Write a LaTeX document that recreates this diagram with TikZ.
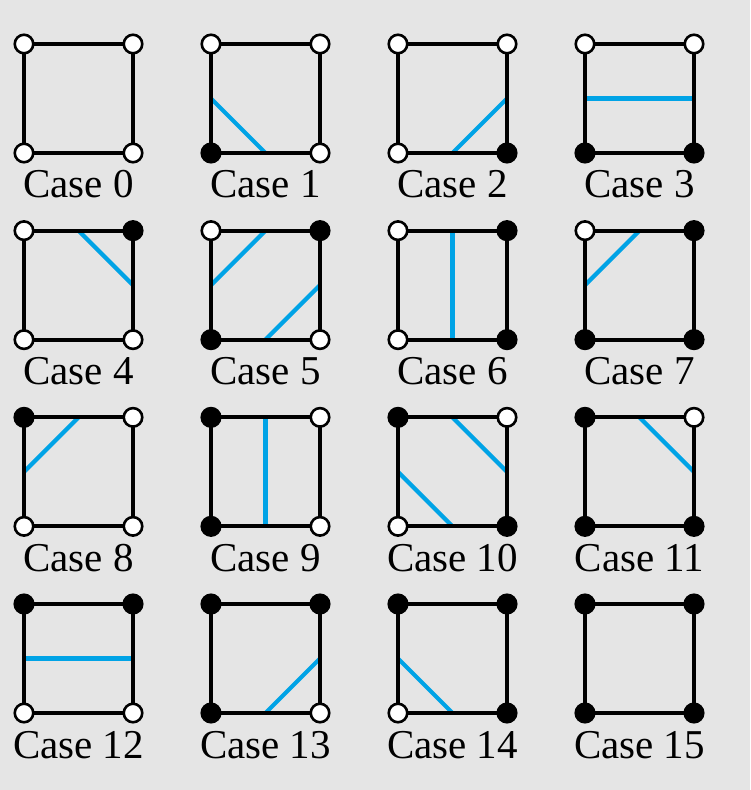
\documentclass[tikz,border=0pt]{standalone}
\usepackage{fontspec}
\setmainfont{Liberation Serif}
\definecolor{bgc}{HTML}{E5E5E5}
\definecolor{iso}{HTML}{00A3E6}
\tikzset{
  cell/.style={draw=black, line width=4pt},
  contour/.style={draw=iso, line width=4.2pt},
  corner/.style={circle, draw=black, line width=2.6pt, minimum size=18.5pt, inner sep=0pt},
  caselabel/.style={anchor=base, font=\fontsize{41}{41}\selectfont, inner sep=0pt}
}
\begin{document}
\begin{tikzpicture}[x=1pt,y=1pt]
\fill[bgc] (0,0) rectangle (750,790);
\useasboundingbox (0,0) rectangle (750,790);
\foreach \n in {0,...,15} {
  \pgfmathtruncatemacro\col{mod(\n,4)}
  \pgfmathtruncatemacro\row{div(\n,4)}
  \pgfmathsetmacro\x{24+187*\col}
  \pgfmathsetmacro\y{790-44-186.67*\row}
  \coordinate (p\n-tl) at (\x,\y);
  \coordinate (p\n-tr) at (\x+109,\y);
  \coordinate (p\n-bl) at (\x,\y-109);
  \coordinate (p\n-br) at (\x+109,\y-109);
  \coordinate (m\n-t) at (\x+54.5,\y);
  \coordinate (m\n-b) at (\x+54.5,\y-109);
  \coordinate (m\n-l) at (\x,\y-54.5);
  \coordinate (m\n-r) at (\x+109,\y-54.5);
  \node[caselabel] (lab\n) at (\x+54.5,\y-154) {Case \n};
}
\foreach \n/\a/\b in {1/l/b, 2/b/r, 3/l/r, 4/t/r, 5/t/l, 5/b/r, 6/t/b, 7/l/t, 8/l/t, 9/t/b, 10/t/r, 10/l/b, 11/t/r, 12/l/r, 13/b/r, 14/l/b}
  \draw[contour] (m\n-\a) -- (m\n-\b);
\foreach \n in {0,...,15} {
  \draw[cell] (p\n-tl) -- (p\n-tr) -- (p\n-br) -- (p\n-bl) -- cycle;
  \pgfmathtruncatemacro\bbl{mod(\n,2)}
  \pgfmathtruncatemacro\bbr{mod(div(\n,2),2)}
  \pgfmathtruncatemacro\btr{mod(div(\n,4),2)}
  \pgfmathtruncatemacro\btl{mod(div(\n,8),2)}
  \edef\fbl{\ifnum\bbl=1 black\else white\fi}
  \edef\fbr{\ifnum\bbr=1 black\else white\fi}
  \edef\ftr{\ifnum\btr=1 black\else white\fi}
  \edef\ftl{\ifnum\btl=1 black\else white\fi}
  \node[corner, fill=\fbl] (k\n-bl) at (p\n-bl) {};
  \node[corner, fill=\fbr] (k\n-br) at (p\n-br) {};
  \node[corner, fill=\ftr] (k\n-tr) at (p\n-tr) {};
  \node[corner, fill=\ftl] (k\n-tl) at (p\n-tl) {};
}
\end{tikzpicture}
\end{document}
